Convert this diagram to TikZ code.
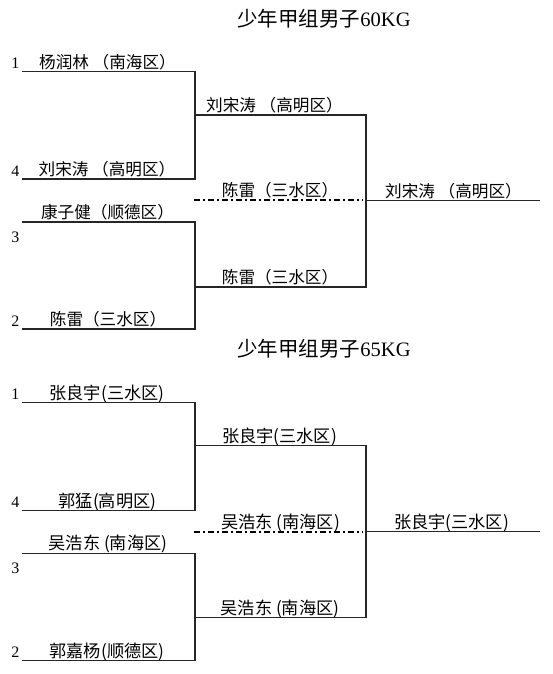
\documentclass[tikz,border=0pt]{standalone}
\usepackage{fontspec}
\setmainfont{Liberation Serif}
\newfontfamily\cjk{Noto Sans CJK SC}
\tikzset{
  br/.style={draw=black!85, line width=1.15pt},
  dd/.style={draw=black, line width=1.9pt, dash pattern=on 6pt off 3pt on 2pt off 3pt},
  nm/.style={font=\cjk\fontsize{16.6}{17}\selectfont, inner sep=0pt, anchor=base},
  nmh/.style={font=\cjk\fontsize{17.2}{17}\selectfont, inner sep=0pt, anchor=base},
  num/.style={font=\fontsize{16}{16}\selectfont, inner sep=0pt, anchor=base},
  ttl/.style={font=\fontsize{20.5}{20}\selectfont, inner sep=0pt},
}
\begin{document}
\begin{tikzpicture}[x=1pt,y=-1pt]
\useasboundingbox (0,0) rectangle (552,674);
%================ 60KG
\node[ttl] (t1) at (324,18.5) {{\cjk 少年甲组男子}60KG};
\coordinate (a1s) at (22,71.7);  \coordinate (a1e) at (195,71.7);
\coordinate (a4s) at (22,179);   \coordinate (a4e) at (195,179);
\coordinate (a3s) at (22,222);   \coordinate (a3e) at (195,222);
\coordinate (a2s) at (22,329);   \coordinate (a2e) at (195,329);
\coordinate (aus) at (195,115);  \coordinate (aue) at (366,115);
\coordinate (ads) at (195,287);  \coordinate (ade) at (366,287);
\coordinate (ams) at (194,200);  \coordinate (ame) at (363,200);
\coordinate (afs) at (366,200.5);\coordinate (afe) at (540,200.5);
\draw[br] (a1s) -- (a1e) -- (a4e) -- (a4s);
\draw[br] (a3s) -- (a3e) -- (a2e) -- (a2s);
\draw[br] (aus) -- (aue) -- (ade) -- (ads);
\draw[br] (afs) -- (afe);
\draw[dd] (ams) -- (ame);
\node[num] (an1) at (15.5,68.7) {1};
\node[num] (an4) at (15.5,176) {4};
\node[num, anchor=center] (an3) at (15.5,237) {3};
\node[num] (an2) at (15.5,326) {2};
\node[nm] (ap1) at (107.5,68.3) {杨润林 （南海区）};
\node[nm] (ap4) at (107,175.5) {刘宋涛 （高明区）};
\node[nm] (ap3) at (107.5,218.5) {康子健（顺德区）};
\node[nm] (ap2) at (108,325.5) {陈雷（三水区）};
\node[nm] (apu) at (274.5,111.5) {刘宋涛 （高明区）};
\node[nm] (apm) at (280,196.5) {陈雷（三水区）};
\node[nm] (apd) at (280,283.5) {陈雷（三水区）};
\node[nm] (apf) at (453.5,197) {刘宋涛 （高明区）};
%================ 65KG
\begin{scope}[yshift=-331pt]
\node[ttl] (t2) at (324,18) {{\cjk 少年甲组男子}65KG};
\coordinate (b1s) at (22,71.7);  \coordinate (b1e) at (195,71.7);
\coordinate (b4s) at (22,179.5); \coordinate (b4e) at (195,179.5);
\coordinate (b3s) at (22,222.3); \coordinate (b3e) at (195,222.3);
\coordinate (b2s) at (22,329.7); \coordinate (b2e) at (195,329.7);
\coordinate (bus) at (195,114.7);\coordinate (bue) at (366,114.7);
\coordinate (bds) at (195,286.7);\coordinate (bde) at (366,286.7);
\coordinate (bms) at (194,200.7);\coordinate (bme) at (363,200.7);
\coordinate (bfs) at (366,200.7);\coordinate (bfe) at (540,200.7);
\draw[br] (b1s) -- (b1e) -- (b4e) -- (b4s);
\draw[br] (b3s) -- (b3e) -- (b2e) -- (b2s);
\draw[br] (bus) -- (bue) -- (bde) -- (bds);
\draw[br] (bfs) -- (bfe);
\draw[dd] (bms) -- (bme);
\node[num] (bn1) at (15.5,68.7) {1};
\node[num] (bn4) at (15.5,176.5) {4};
\node[num, anchor=center] (bn3) at (15.5,237) {3};
\node[num] (bn2) at (15.5,326.5) {2};
\node[nmh] (bp1) at (107,68.3) {张良宇(三水区)};
\node[nmh] (bp4) at (107.5,176) {郭猛(高明区)};
\node[nmh] (bp3) at (108,218.8) {吴浩东 (南海区)};
\node[nmh] (bp2) at (107,326) {郭嘉杨(顺德区)};
\node[nmh] (bpu) at (279.5,111.2) {张良宇(三水区)};
\node[nmh] (bpm) at (280.5,197) {吴浩东 (南海区)};
\node[nmh] (bpd) at (280,283.2) {吴浩东 (南海区)};
\node[nmh] (bpf) at (451.5,197.2) {张良宇(三水区)};
\end{scope}
\end{tikzpicture}
\end{document}
